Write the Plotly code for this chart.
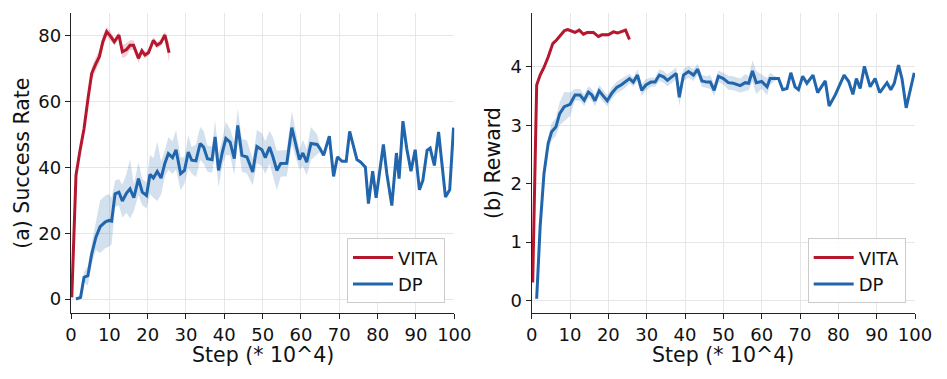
import plotly.graph_objects as go

# ---- (a) success rate ----
vita_a_step = [0.2, 1.3, 2.35, 3.4, 4.5, 5.4, 6.5, 7.4, 8.3, 9.3, 10.4, 11.3, 12.5,
               13.4, 14.5, 15.4, 16.3, 17.6, 18.5, 19.3, 20.2, 21.5, 22.4, 23.4, 24.5, 25.6]
vita_a_val = [0.5, 37.6, 45.2, 51.8, 61.5, 68.6, 71.6, 73.7, 78.2, 81.3, 79.8, 78.2, 80.3,
              75.2, 75.9, 77.2, 77.2, 73.2, 75.5, 74.2, 74.9, 78.7, 77.2, 77.9, 80.3, 74.9]
vita_a_sd = [0.5, 1, 1, 1, 1.5, 2, 2, 2, 2, 1.5, 1.5, 1, 1,
             2, 2, 1.5, 1.5, 1.5, 1, 1, 1, 1, 1, 1, 1, 3]

dp_a_step = [1.3, 2.5, 3.4, 4.4, 5.4, 6.5, 7.6, 8.9, 9.9, 10.6,
             11.5, 12.5, 13.4, 14.5, 15.4, 16.4, 17.6, 18.6, 19.7, 20.6,
             21.5, 22.5, 23.5, 24.5, 25.4, 26.5, 27.4, 28.6, 29.6, 30.6,
             31.5, 32.6, 33.7, 34.6, 35.6, 36.8, 37.6, 38.5, 39.5, 40.4,
             41.5, 42.6, 43.5, 44.6, 45.9, 47.4, 48.5, 49.8, 50.7, 51.8,
             52.7, 53.7, 54.7, 56.3, 57.6, 58.5, 59.6, 60.5, 61.5, 62.6,
             64.2, 65.0, 65.9, 67.4, 68.5, 69.5, 70.7, 71.8, 72.7, 74.6,
             75.6, 76.8, 77.6, 78.7, 79.6, 81.5, 82.4, 83.7, 84.9, 85.6,
             86.6, 87.6, 88.7, 89.8, 90.9, 91.8, 92.9, 93.7, 94.8, 95.9,
             97.7, 98.8, 99.8]
dp_a_val = [0, 0.5, 6.6, 7.1, 13.7, 18.8, 22, 23.4, 23.9, 23.7,
            32, 32.5, 29.8, 32.2, 33.5, 30.8, 36.6, 32.5, 31.5, 37.9,
            36.8, 38.8, 36.8, 41.3, 44.2, 43, 45.4, 38.1, 39.1, 44.7,
            42.2, 42, 47.3, 46.2, 42.7, 42.4, 49.3, 39.1, 44.7, 48.8,
            47.7, 42.7, 52.8, 43.7, 43.2, 38.6, 46.4, 45.4, 43, 46.2,
            43.2, 39.1, 41.2, 41.3, 52.1, 47.7, 42.4, 44.4, 41.6, 47.3,
            47, 45.7, 43.7, 49.5, 37.3, 43.2, 41.9, 41.9, 51, 42.4,
            41.6, 40.1, 29, 38.9, 30.8, 47, 38.1, 28.4, 44.4, 36.6,
            54.1, 45.7, 38.9, 45.4, 33.2, 36.1, 45.2, 45.9, 40.6, 50.8,
            31, 33.2, 52.1]
dp_a_sd = [0, 0.5, 1.5, 3, 3, 4, 8, 8, 8, 7,
           4, 4, 5, 6, 9, 4, 5, 4, 4, 6,
           6, 9, 5, 4, 5, 5, 6, 5, 4, 5,
           4, 5, 5, 5, 4, 4, 5, 5, 4, 5,
           4, 5, 5, 5, 5, 4, 5, 5, 5, 5,
           6, 6, 4, 4, 5, 4, 3, 4, 4, 5,
           3, 1, 0, 0, 0, 0, 0, 0, 0, 0,
           0, 0, 0, 0, 0, 0, 0, 0, 0, 0,
           0, 0, 0, 0, 0, 0, 0, 0, 0, 0,
           0, 0, 0]

# ---- (b) reward ----
vita_b_step = [0.26, 1.3, 2.2, 3.2, 4.3, 5.5, 6.5, 7.6, 8.5, 9.4, 10.4, 11.3,
               12.4, 13.5, 14.5, 16.1, 17.4, 18.3, 20, 21.3, 22.4, 23.5, 24.5, 25.5]
vita_b_val = [0.31, 3.69, 3.86, 3.99, 4.17, 4.4, 4.46, 4.55, 4.62, 4.64, 4.62, 4.59,
              4.63, 4.56, 4.59, 4.59, 4.52, 4.55, 4.55, 4.6, 4.58, 4.6, 4.63, 4.47]
vita_b_sd = [0.02, 0.04, 0.04, 0.04, 0.04, 0.04, 0.04, 0.03, 0.03, 0.03, 0.03, 0.03,
             0.03, 0.03, 0.03, 0.03, 0.03, 0.03, 0.03, 0.03, 0.03, 0.03, 0.03, 0.05]

dp_b_step = [1.3, 2.2, 3.2, 4.3, 5.2, 6.3, 7.3, 8.5, 10, 11.3,
             12.6, 13.7, 14.8, 15.7, 16.5, 17.6, 18.7, 19.7, 20.9, 22.2,
             23.5, 24.4, 25.5, 26.5, 27.6, 28.7, 29.8, 31.1, 32.2, 33.3,
             34.4, 35.4, 36.6, 37.7, 38.5, 39.6, 40.9, 42.2, 43.3, 44.4,
             45.7, 46.6, 47.6, 48.7, 50, 51.3, 52.6, 54.4, 55.7, 56.6,
             57.6, 58.6, 60, 61.4, 62.2, 64.4, 65.5, 66.6, 67.6, 68.7,
             69.6, 70.7, 71.8, 73.4, 74.6, 76.6, 77.6, 79.2, 81.5, 82.7,
             83.8, 84.7, 85.7, 86.8, 88.3, 89.6, 90.8, 92.7, 93.7, 94.6,
             95.7, 96.6, 97.7, 99.8]
dp_b_val = [0.03, 1.26, 2.17, 2.69, 2.89, 2.97, 3.2, 3.32, 3.36, 3.52,
            3.52, 3.43, 3.57, 3.52, 3.42, 3.59, 3.5, 3.42, 3.55, 3.65,
            3.7, 3.74, 3.8, 3.74, 3.86, 3.6, 3.69, 3.74, 3.74, 3.86,
            3.83, 3.77, 3.83, 3.89, 3.48, 3.86, 3.92, 3.86, 3.96, 3.76,
            3.74, 3.74, 3.6, 3.84, 3.8, 3.73, 3.72, 3.68, 3.73, 3.72,
            3.93, 3.73, 3.75, 3.66, 3.8, 3.8, 3.61, 3.63, 3.9, 3.66,
            3.61, 3.84, 3.72, 3.86, 3.56, 3.76, 3.33, 3.52, 3.86, 3.75,
            3.53, 3.8, 3.63, 4.01, 3.66, 3.8, 3.56, 3.73, 3.61, 3.72,
            4.03, 3.8, 3.3, 3.9]
dp_b_sd = [0, 0.05, 0.1, 0.1, 0.15, 0.15, 0.2, 0.25, 0.2, 0.1,
           0.1, 0.1, 0.1, 0.1, 0.1, 0.1, 0.1, 0.1, 0.1, 0.1,
           0.1, 0.1, 0.08, 0.08, 0.1, 0.1, 0.1, 0.08, 0.08, 0.1,
           0.1, 0.1, 0.1, 0.1, 0.15, 0.1, 0.1, 0.1, 0.1, 0.1,
           0.1, 0.12, 0.1, 0.1, 0.1, 0.12, 0.12, 0.12, 0.15, 0.12,
           0.18, 0.2, 0.12, 0.15, 0.1, 0, 0, 0, 0, 0,
           0, 0, 0, 0, 0, 0, 0, 0, 0, 0,
           0, 0, 0, 0, 0, 0, 0, 0, 0, 0,
           0, 0, 0, 0]

x_ticks = [0, 10, 20, 30, 40, 50, 60, 70, 80, 90, 100]
y_ticks_a = [0, 20, 40, 60, 80]
y_ticks_b = [0, 1, 2, 3, 4]

RED = "#b5172e"
BLUE = "#2166ac"
FONT = "DejaVu Sans"
W, H = 947, 379
OFF = 8  # page body margin pushes the plot down/right


def px(x):
    return (x - OFF) / W


def py(y):
    return (H - (y - OFF)) / H


fig = go.Figure()


def add_series(step, val, sd, color, fillcol, name, xa, ya, legend):
    upper = [v + s for v, s in zip(val, sd)]
    lower = [v - s for v, s in zip(val, sd)]
    fig.add_trace(go.Scatter(
        x=step + step[::-1], y=upper + lower[::-1], fill="toself", fillcolor=fillcol,
        line=dict(width=0), mode="lines", hoverinfo="skip", showlegend=False,
        xaxis=xa, yaxis=ya))
    fig.add_trace(go.Scatter(
        x=step, y=val, mode="lines", name=name, line=dict(color=color, width=3),
        xaxis=xa, yaxis=ya, legend=legend))


add_series(dp_a_step, dp_a_val, dp_a_sd, BLUE, "rgba(33,102,172,0.2)", "DP", "x", "y", "legend")
add_series(vita_a_step, vita_a_val, vita_a_sd, RED, "rgba(181,23,46,0.2)", "VITA", "x", "y", "legend")
add_series(dp_b_step, dp_b_val, dp_b_sd, BLUE, "rgba(33,102,172,0.2)", "DP", "x2", "y2", "legend2")
add_series(vita_b_step, vita_b_val, vita_b_sd, RED, "rgba(181,23,46,0.2)", "VITA", "x2", "y2", "legend2")

axis_common = dict(
    showline=True, linecolor="#222", linewidth=1.3, mirror=False,
    showgrid=True, gridcolor="#e6e6e6", gridwidth=1, zeroline=False,
    ticks="outside", ticklen=5, tickwidth=1.2, tickcolor="#222",
    tickfont=dict(family=FONT, size=18, color="#111"), automargin=False,
)

dom_a = [px(71), px(454.3)]
dom_b = [px(531.7), px(915)]
dom_y = [py(313.3), py(13.3)]

legend_common = dict(
    xanchor="right", y=py(303.3), yanchor="bottom",
    bgcolor="rgba(255,255,255,0.85)", bordercolor="#cccccc", borderwidth=1,
    font=dict(family=FONT, size=18, color="#111"), traceorder="reversed",
    itemwidth=40, entrywidth=62, entrywidthmode="pixels", tracegroupgap=0,
)

fig.update_layout(
    width=W, height=H,
    margin=dict(l=0, r=0, t=0, b=0),
    paper_bgcolor="white", plot_bgcolor="white",
    font=dict(family=FONT, color="#111"),
    xaxis=dict(domain=dom_a, range=[0, 100], tickvals=x_ticks, anchor="y", **axis_common),
    yaxis=dict(domain=dom_y, range=[-4.35, 86.9], tickvals=y_ticks_a, anchor="x", **axis_common),
    xaxis2=dict(domain=dom_b, range=[0, 100], tickvals=x_ticks, anchor="y2", **axis_common),
    yaxis2=dict(domain=dom_y, range=[-0.219, 4.918], tickvals=y_ticks_b, anchor="x2", **axis_common),
    legend=dict(x=px(445), **legend_common),
    legend2=dict(x=px(905.7), **legend_common),
)

title_font = dict(family=FONT, size=20.5, color="#111")
fig.add_annotation(text="(a) Success Rate", xref="paper", yref="paper",
                   x=px(21.7), y=py(163), textangle=-90, showarrow=False,
                   font=title_font, xanchor="center", yanchor="middle")
fig.add_annotation(text="(b) Reward", xref="paper", yref="paper",
                   x=px(493), y=py(163), textangle=-90, showarrow=False,
                   font=title_font, xanchor="center", yanchor="middle")
fig.add_annotation(text="Step (* 10^4)", xref="paper", yref="paper",
                   x=px(262.6), y=py(355), showarrow=False,
                   font=title_font, xanchor="center", yanchor="middle")
fig.add_annotation(text="Step (* 10^4)", xref="paper", yref="paper",
                   x=px(723.4), y=py(355), showarrow=False,
                   font=title_font, xanchor="center", yanchor="middle")

fig.write_html("out.html")
